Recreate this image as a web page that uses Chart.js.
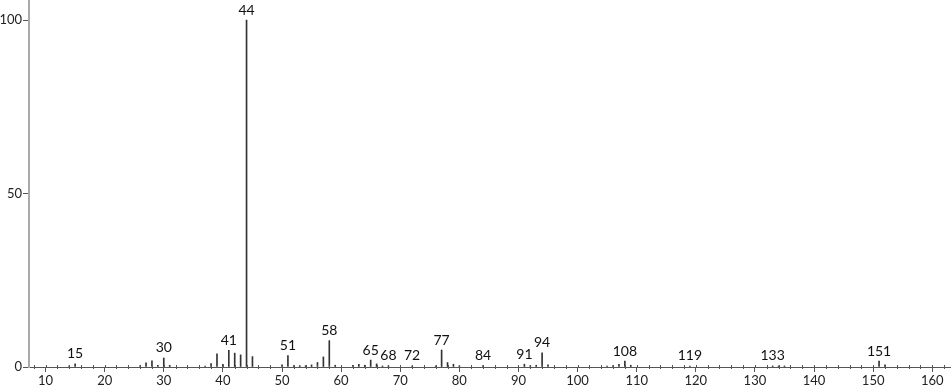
<!DOCTYPE html>
<html>
<head>
<meta charset="utf-8">
<script src="https://cdn.jsdelivr.net/npm/chart.js@4.4.1/dist/chart.umd.min.js"></script>
<style>
  body { margin: 0; background: #fff; }
  #wrap { width: 951px; height: 389px; position: relative; }
</style>
</head>
<body>
<div id="wrap"><canvas id="spec"></canvas></div>
<script>
// m/z values and relative intensities (%)
const mz = [14, 15, 26, 27, 28, 29, 30, 31, 37, 38, 39, 40, 41, 42, 43, 44, 45,
            50, 51, 52, 53, 54, 55, 56, 57, 58, 59, 62, 63, 64, 65, 66, 67, 68,
            72, 76, 77, 78, 79, 80, 84, 91, 92, 93, 94, 95, 105, 106, 107, 108, 109,
            119, 133, 134, 135, 151, 152];
const intensity = [0.3, 0.9, 0.4, 1.2, 1.8, 0.5, 2.6, 0.5, 0.3, 1.0, 3.8, 0.8, 4.8, 4.0, 3.5, 100, 3.0,
                   0.6, 3.3, 0.4, 0.4, 0.4, 0.6, 1.3, 2.9, 7.6, 0.5, 0.5, 0.8, 0.5, 2.0, 0.9, 0.3, 0.3,
                   0.3, 0.3, 4.9, 1.3, 0.8, 0.3, 0.4, 0.8, 0.4, 0.5, 4.1, 0.6, 0.3, 0.4, 0.8, 1.7, 0.5,
                   0.3, 0.3, 0.3, 0.3, 1.7, 0.6];
const labelled = [15, 30, 41, 44, 51, 58, 65, 68, 72, 77, 84, 91, 94, 108, 119, 133, 151];
const xTicks = [10, 20, 30, 40, 50, 60, 70, 80, 90, 100, 110, 120, 130, 140, 150, 160];
const yTicks = [0, 50, 100];

const font = "Lato, 'DejaVu Sans', sans-serif";

// peak labels + minor x ticks
const peakLabels = {
  id: 'peakLabels',
  afterDatasetsDraw(chart) {
    const ctx = chart.ctx, x = chart.scales.x, y = chart.scales.y;
    ctx.save();
    ctx.fillStyle = '#111';
    ctx.font = '14px ' + font;
    ctx.textAlign = 'center';
    ctx.textBaseline = 'bottom';
    labelled.forEach(m => {
      const i = mz.indexOf(m);
      const v = i >= 0 ? intensity[i] : 0;
      const top = Math.min(y.getPixelForValue(v), y.bottom - 2);
      ctx.fillText(String(m), x.getPixelForValue(m), top - 3);
    });
    // minor ticks every 2
    ctx.strokeStyle = '#555';
    ctx.lineWidth = 1;
    for (let v = 8; v <= 162; v += 2) {
      const px = Math.round(x.getPixelForValue(v)) + 0.5;
      ctx.beginPath();
      if (v % 10 === 0) {
        ctx.moveTo(px, y.bottom - 2);
        ctx.lineTo(px, y.bottom);
      } else {
        ctx.moveTo(px, y.bottom - 2);
        ctx.lineTo(px, y.bottom + 2);
      }
      ctx.stroke();
    }
    ctx.restore();
  }
};

new Chart(document.getElementById('spec'), {
  type: 'bar',
  data: {
    datasets: [{
      data: mz.map((m, i) => ({ x: m, y: intensity[i] })),
      backgroundColor: '#333',
      barThickness: 1
    }]
  },
  options: {
    responsive: true,
    maintainAspectRatio: false,
    animation: false,
    layout: { padding: { left: 0, right: 1, top: 0, bottom: 0 } },
    plugins: { legend: { display: false }, tooltip: { enabled: false } },
    scales: {
      x: {
        type: 'linear',
        offset: false,
        min: 7.2,
        max: 163,
        afterBuildTicks: s => { s.ticks = xTicks.map(v => ({ value: v })); },
        afterFit: s => { s.height = 22; s.paddingLeft = 0; s.paddingRight = 0; },
        grid: { drawOnChartArea: false, offset: false, tickLength: 5, color: '#555' },
        border: { color: '#555', width: 1 },
        ticks: { color: '#222', font: { family: font, size: 13 }, padding: 1, maxRotation: 0 }
      },
      y: {
        min: 0,
        max: 105.8,
        afterBuildTicks: s => { s.ticks = yTicks.map(v => ({ value: v })); },
        afterFit: s => { s.width = 29; s.paddingTop = 0; s.paddingBottom = 0; },
        grid: { drawOnChartArea: false, tickLength: 6, color: '#555' },
        border: { color: '#aaa', width: 2 },
        ticks: { color: '#222', font: { family: font, size: 13 }, padding: 1 }
      }
    }
  },
  plugins: [peakLabels]
});
</script>
</body>
</html>
